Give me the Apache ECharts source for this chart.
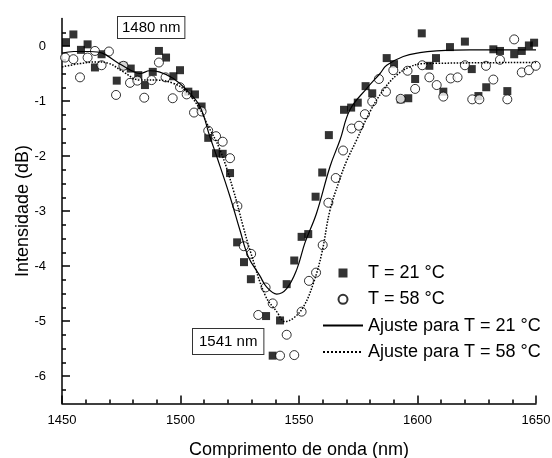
<!DOCTYPE html>
<html>
<head>
<meta charset="utf-8">
<script src="https://cdn.jsdelivr.net/npm/echarts@6/dist/echarts.min.js"></script>
<style>html,body{margin:0;padding:0;background:#fff}#c{width:552px;height:458px}</style>
</head>
<body>
<div id="c"></div>
<script>
// Measured points, T = 21 °C  [wavelength nm, dB]
const t21 = [
 [1451.7,0.07],[1454.8,0.21],[1458.0,-0.07],[1460.8,0.03],[1463.9,-0.39],[1466.7,-0.15],
 [1473.1,-0.63],[1475.9,-0.36],[1479.0,-0.41],[1482.2,-0.53],[1485.0,-0.71],[1488.3,-0.47],
 [1490.9,-0.09],[1493.9,-0.21],[1497.0,-0.55],[1499.8,-0.44],[1503.3,-0.83],[1506.1,-0.88],
 [1508.9,-1.10],[1511.7,-1.67],[1515.0,-1.95],[1517.8,-1.96],[1520.9,-2.31],[1523.9,-3.57],
 [1526.8,-3.93],[1529.7,-4.24],[1536.1,-4.91],[1538.9,-5.63],[1542.0,-4.99],[1544.8,-4.33],
 [1548.0,-3.90],[1551.1,-3.47],[1553.9,-3.42],[1557.0,-2.74],[1559.8,-2.30],[1562.6,-1.62],
 [1569.0,-1.16],[1572.0,-1.12],[1574.8,-1.03],[1578.1,-0.73],[1580.9,-0.86],[1587.0,-0.22],
 [1590.1,-0.33],[1592.9,-0.97],[1596.1,-0.95],[1599.0,-0.60],[1601.8,0.23],[1605.0,-0.36],
 [1607.8,-0.22],[1610.9,-0.83],[1613.7,-0.02],[1620.0,0.08],[1622.9,-0.42],[1625.7,-0.91],
 [1629.0,-0.75],[1632.0,-0.06],[1634.8,-0.09],[1637.9,-0.82],[1640.8,-0.15],[1644.0,-0.09],
 [1647.0,0.01],[1649.2,0.06]
];
// Measured points, T = 58 °C
const t58 = [
 [1451.3,-0.21],[1454.8,-0.24],[1457.6,-0.57],[1460.8,-0.21],[1463.9,-0.09],[1466.7,-0.35],
 [1469.8,-0.10],[1472.8,-0.89],[1475.9,-0.36],[1478.7,-0.67],[1481.8,-0.63],[1484.7,-0.94],
 [1487.8,-0.62],[1490.9,-0.30],[1493.7,-0.57],[1496.7,-0.95],[1499.8,-0.75],[1502.6,-0.88],
 [1505.7,-1.21],[1508.9,-1.19],[1511.7,-1.54],[1515.0,-1.64],[1517.8,-1.74],[1520.9,-2.04],
 [1524.0,-2.91],[1526.7,-3.64],[1529.8,-3.78],[1532.8,-4.89],[1535.9,-4.39],[1538.9,-4.68],
 [1542.0,-5.63],[1544.8,-5.25],[1548.0,-5.62],[1551.1,-4.83],[1554.2,-4.27],[1557.2,-4.12],
 [1560.0,-3.62],[1562.4,-2.85],[1565.5,-2.40],[1568.6,-1.90],[1572.2,-1.50],[1575.3,-1.45],
 [1577.8,-1.24],[1580.9,-1.01],[1583.7,-0.60],[1586.7,-0.83],[1589.8,-0.44],[1592.9,-0.96],
 [1595.8,-0.45],[1599.0,-0.78],[1602.0,-0.35],[1605.0,-0.57],[1608.1,-0.71],[1610.9,-0.92],
 [1614.0,-0.59],[1616.9,-0.57],[1620.0,-0.35],[1623.1,-0.97],[1626.1,-0.97],[1628.9,-0.36],
 [1632.0,-0.61],[1634.8,-0.25],[1637.9,-0.97],[1640.8,0.12],[1644.0,-0.48],[1647.0,-0.44],
 [1649.9,-0.36]
];
// Fitted curve, T = 21 °C
const fit21 = [
 [1450,-0.13],[1455,-0.10],[1462,-0.10],[1467,-0.13],[1473,-0.29],[1479,-0.44],[1483,-0.50],
 [1487,-0.45],[1491,-0.47],[1497,-0.59],[1502.6,-0.80],[1508.2,-1.10],[1512.4,-1.65],
 [1515.3,-2.01],[1520.9,-2.74],[1525.1,-3.35],[1528.6,-3.83],[1533.5,-4.18],[1536.3,-4.38],
 [1540.6,-4.51],[1544.8,-4.41],[1549,-4.07],[1552.5,-3.58],[1557.4,-3.04],[1563.1,-2.19],
 [1567.3,-1.71],[1571.5,-1.16],[1578.6,-0.77],[1584.2,-0.50],[1587,-0.35],[1594,-0.19],
 [1601,-0.12],[1608,-0.09],[1622,-0.07],[1650,-0.07]
];
// Fitted curve, T = 58 °C
const fit58 = [
 [1450,-0.38],[1457.6,-0.32],[1464.6,-0.29],[1470,-0.32],[1475.9,-0.47],[1482.9,-0.62],
 [1490,-0.62],[1497,-0.68],[1502.6,-0.83],[1508.2,-1.15],[1511,-1.40],[1516.7,-1.89],
 [1522.3,-2.62],[1526.5,-3.29],[1529.3,-3.71],[1535.7,-4.53],[1540.6,-4.83],[1544.1,-5.01],
 [1547.6,-4.95],[1551.9,-4.74],[1556.1,-4.31],[1559.6,-3.77],[1563.1,-2.98],[1567,-2.45],
 [1570,-2.10],[1574.3,-1.71],[1580,-1.19],[1585.6,-0.80],[1591.2,-0.53],[1596.8,-0.38],
 [1602.4,-0.32],[1650,-0.30]
];
const xRange = {min:1450, max:1650, step:50};
const yRange = {min:-6.5, max:0.5, splits:7};
const yTickValues = [-6,-5,-4,-3,-2,-1,0];
const peakLabels = ['1480 nm','1541 nm'];
const names = ['T = 21 °C','T = 58 °C','Ajuste para T = 21 °C','Ajuste para T = 58 °C'];

const chart = echarts.init(document.getElementById('c'));
const font = 'Liberation Sans, Arial, sans-serif';
const noMark = {color:'rgba(0,0,0,0)',borderWidth:0};
chart.setOption({
  animation:false,
  backgroundColor:'#fff',
  grid:{left:62,right:16,top:18.5,bottom:54.5,containLabel:false,outerBoundsMode:'none'},
  xAxis:{
    type:'value',min:xRange.min,max:xRange.max,interval:xRange.step,
    name:'Comprimento de onda (nm)',nameLocation:'middle',nameGap:38,nameMoveOverlap:false,
    nameTextStyle:{fontFamily:font,fontSize:18,color:'#000'},
    axisLine:{onZero:false,lineStyle:{color:'#000',width:1.5}},
    axisTick:{inside:true,length:8,lineStyle:{color:'#000',width:1.5}},
    minorTick:{show:true,splitNumber:5,length:4,lineStyle:{color:'#000',width:1.5}},
    axisLabel:{fontFamily:font,fontSize:13,color:'#000',margin:10,formatter:v=>String(v)},
    splitLine:{show:false}
  },
  yAxis:{
    type:'value',min:yRange.min,max:yRange.max,splitNumber:yRange.splits,
    name:'Intensidade (dB)',nameLocation:'middle',nameGap:30,nameMoveOverlap:false,
    nameTextStyle:{fontFamily:font,fontSize:18,color:'#000'},
    axisLine:{onZero:false,lineStyle:{color:'#000',width:1.5}},
    axisTick:{inside:true,length:8,customValues:yTickValues,lineStyle:{color:'#000',width:1.5}},
    minorTick:{show:true,splitNumber:4,length:4,lineStyle:{color:'#000',width:1.5}},
    axisLabel:{fontFamily:font,fontSize:13,color:'#000',margin:16,customValues:yTickValues,
      formatter:v=>String(v)},
    splitLine:{show:false}
  },
  legend:{
    orient:'vertical',left:317,top:259,itemWidth:40,itemHeight:9,itemGap:8.3,
    textStyle:{fontFamily:font,fontSize:18,color:'#000',lineHeight:18},
    data:[
      {name:names[0],icon:'path://M0,0L10,0L10,10L0,10Z'},
      {name:names[1]},
      {name:names[2],itemStyle:noMark},
      {name:names[3],itemStyle:noMark}
    ]
  },
  series:[
    {name:names[0],type:'scatter',data:t21,symbol:'rect',symbolSize:8,itemStyle:{color:'#000'},z:3},
    {name:names[1],type:'scatter',data:t58,symbol:'circle',symbolSize:9,
     itemStyle:{color:'#fff',borderColor:'#000',borderWidth:1},z:4},
    {name:names[2],type:'line',data:fit21,smooth:0.4,symbol:'none',itemStyle:noMark,
     lineStyle:{color:'#000',width:1.2,type:'solid'},z:5},
    {name:names[3],type:'line',data:fit58,smooth:0.4,symbol:'none',itemStyle:noMark,
     lineStyle:{color:'#000',width:1.5,type:'dotted'},z:5}
  ],
  graphic:[
    {type:'text',left:117,top:16,z:10,style:{text:peakLabels[0],fontFamily:font,fontSize:15,fill:'#000',
      backgroundColor:'#fff',borderColor:'#333',borderWidth:1,padding:[3,4,3,4]}},
    {type:'text',left:192,top:328,z:10,style:{text:peakLabels[1],fontFamily:font,fontSize:15,fill:'#000',
      backgroundColor:'#fff',borderColor:'#333',borderWidth:1,padding:[5,6,5,6]}}
  ]
});
</script>
</body>
</html>
